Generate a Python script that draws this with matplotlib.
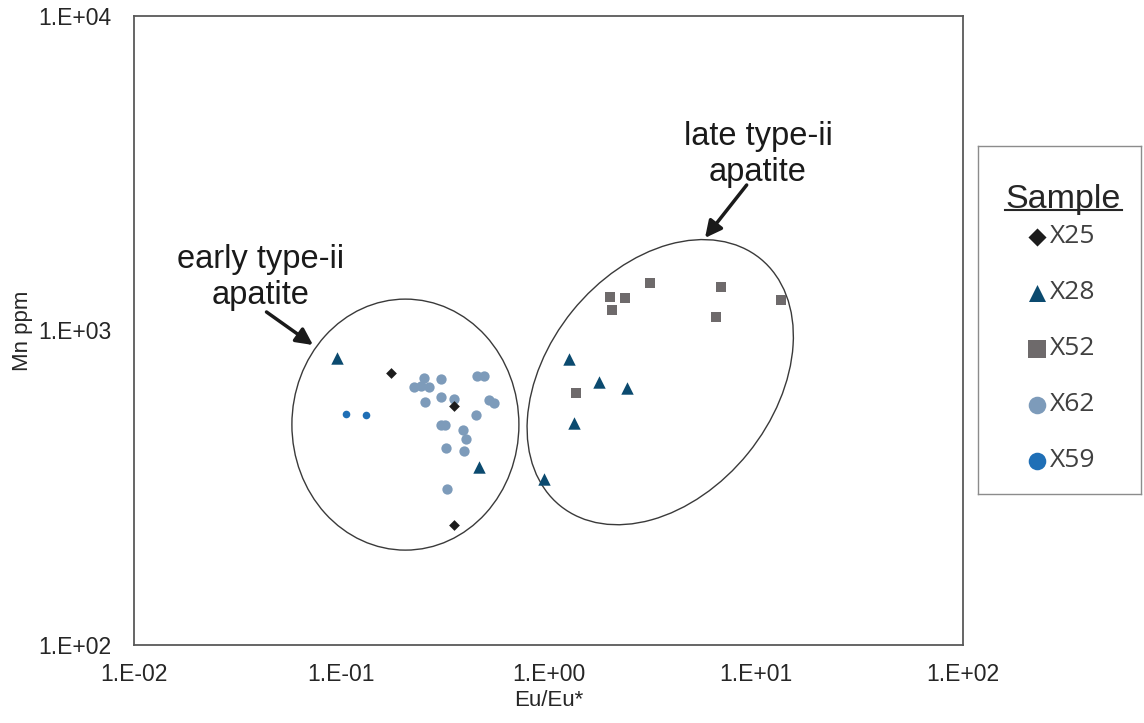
import numpy as np
import matplotlib
matplotlib.use("Agg")
import matplotlib.pyplot as plt
from matplotlib.patches import Ellipse
from matplotlib.ticker import FixedLocator, FuncFormatter, NullLocator
from matplotlib.transforms import ScaledTranslation

plt.rcParams["font.family"] = ["Liberation Sans", "DejaVu Sans"]

# -----------------------------
# Data (Eu/Eu*, Mn ppm)
# -----------------------------
x25_eu = [0.173, 0.35, 0.35]
x25_mn = [734, 575, 241]

x28_eu = [0.095, 0.46, 1.26, 1.75, 2.40, 1.33, 0.95]
x28_mn = [815, 369, 810, 688, 657, 509, 337]

x52_eu = [3.10, 1.97, 2.35, 2.02, 6.8, 6.45, 13.3, 1.36]
x52_mn = [1420, 1280, 1270, 1160, 1370, 1100, 1250, 633]

x62_eu = [0.252, 0.225, 0.243, 0.265, 0.304, 0.452, 0.49, 0.254, 0.304, 0.351,
          0.518, 0.546, 0.447, 0.304, 0.317, 0.388, 0.40, 0.319, 0.39, 0.324]
x62_mn = [705, 660, 666, 663, 700, 715, 715, 593, 616, 604,
          601, 589, 540, 502, 502, 483, 451, 422, 415, 313]

x59_eu = [0.105, 0.131]
x59_mn = [544, 540]

samples = ["X25", "X28", "X52", "X62", "X59"]
tick_exps_x = [-2, -1, 0, 1, 2]
tick_exps_y = [2, 3, 4]

# style per sample: marker, colour, size in plot, size in legend
styles = {
    "X25": ("D", "#1c1c1c", 30, 85),
    "X28": ("^", "#0b4a6f", 80, 150),
    "X52": ("s", "#6e6a6b", 62, 160),
    "X62": ("o", "#7d9bba", 55, 160),
    "X59": ("o", "#1f6fb6", 30, 160),
}
series = {
    "X25": (x25_eu, x25_mn),
    "X28": (x28_eu, x28_mn),
    "X52": (x52_eu, x52_mn),
    "X62": (x62_eu, x62_mn),
    "X59": (x59_eu, x59_mn),
}


def sci_label(v, pos):
    return f"1.E{int(round(np.log10(v))):+03d}"


fig = plt.figure(figsize=(11.44, 7.23), dpi=100)
ax = fig.add_axes([0.1171, 0.1079, 0.7247, 0.8700])

# draw order: X62 under the others
for name in ["X62", "X59", "X52", "X28", "X25"]:
    m, c, s, _ = styles[name]
    xs, ys = series[name]
    ax.scatter(xs, ys, marker=m, s=s, color=c, linewidths=0, zorder=3)

ax.set_xscale("log")
ax.set_yscale("log")
ax.set_xlim(1e-2, 1e2)
ax.set_ylim(1e2, 1e4)
ax.xaxis.set_major_locator(FixedLocator([10.0 ** e for e in tick_exps_x]))
ax.yaxis.set_major_locator(FixedLocator([10.0 ** e for e in tick_exps_y]))
ax.xaxis.set_minor_locator(NullLocator())
ax.yaxis.set_minor_locator(NullLocator())
ax.xaxis.set_major_formatter(FuncFormatter(sci_label))
ax.yaxis.set_major_formatter(FuncFormatter(sci_label))
ax.tick_params(axis="both", length=0, labelsize=16.5, colors="#262626")
ax.tick_params(axis="x", pad=13)
ax.tick_params(axis="y", pad=16)
for sp in ax.spines.values():
    sp.set_color("#595959")
    sp.set_linewidth(1.3)

ax.set_xlabel("Eu/Eu*", fontsize=16, color="#262626", labelpad=3)
ax.set_ylabel("Mn ppm", fontsize=16, color="#262626")
ax.yaxis.set_label_coords(-0.122, 0.5)

# ellipses: size in inches, placed at a data point
left_tr = fig.dpi_scale_trans + ScaledTranslation(0.204, 502, ax.transData)
ax.add_patch(Ellipse((0, 0), 2.27, 2.51, angle=0, transform=left_tr,
                     fill=False, edgecolor="#3a3a3a", lw=1.0, zorder=2))
right_tr = fig.dpi_scale_trans + ScaledTranslation(3.46, 685, ax.transData)
ax.add_patch(Ellipse((0, 0), 3.18, 2.26, angle=51, transform=right_tr,
                     fill=False, edgecolor="#3a3a3a", lw=1.0, zorder=2))

# labels + arrows
ax.text(0.0406, 1470, "early type-ii\napatite", ha="center", va="center",
        fontsize=23.5, color="#1a1a1a", linespacing=1.2)
ax.annotate("", xy=(0.0731, 899), xytext=(0.0436, 1145),
            arrowprops=dict(arrowstyle="-|>", lw=2.5, color="#1a1a1a",
                            mutation_scale=25, shrinkA=0, shrinkB=0))
ax.text(10.25, 3620, "late type-ii\napatite", ha="center", va="center",
        fontsize=23.5, color="#1a1a1a", linespacing=1.2)
ax.annotate("", xy=(5.69, 1969), xytext=(9.04, 2901),
            arrowprops=dict(arrowstyle="-|>", lw=2.5, color="#1a1a1a",
                            mutation_scale=25, shrinkA=0, shrinkB=0))

# -----------------------------
# Legend (hand built box)
# -----------------------------
lax = fig.add_axes([0.8549, 0.3167, 0.1425, 0.4813])
lax.set_xlim(0, 1)
lax.set_ylim(0, 1)
lax.set_xticks([])
lax.set_yticks([])
for sp in lax.spines.values():
    sp.set_color("#8c8c8c")
    sp.set_linewidth(1.0)

lax.text(0.52, 0.845, "Sample", ha="center", va="center", fontsize=24.5,
         color="#262626")
lax.plot([0.166, 0.883], [0.815, 0.815], color="#262626", lw=1.5)

entry_y = np.linspace(0.74, 0.095, len(samples))
for name, yy in zip(samples, entry_y):
    m, c, _, sl = styles[name]
    lax.scatter([0.36], [yy], marker=m, s=sl, color=c, linewidths=0)
    lax.text(0.44, yy, name, ha="left", va="center", fontsize=19,
             color="#404040", family=["Open Sans", "DejaVu Sans"])

fig.savefig("out.png", dpi=100)
